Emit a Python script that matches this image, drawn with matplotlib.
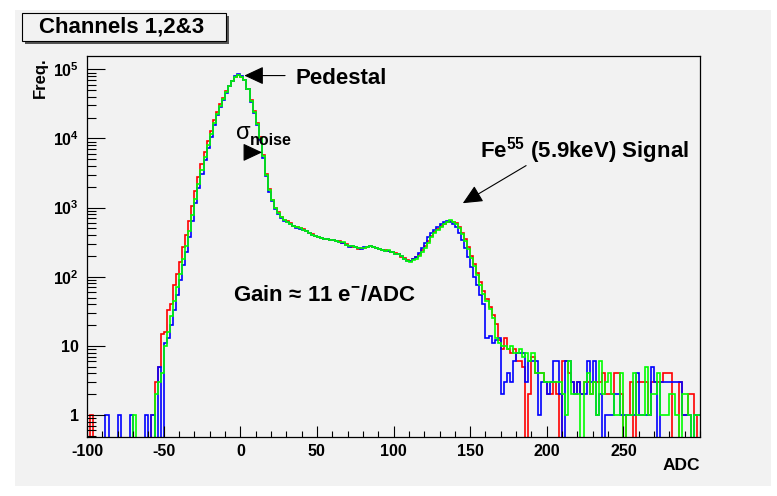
import numpy as np
import matplotlib
matplotlib.use("Agg")
import matplotlib.pyplot as plt
from matplotlib.ticker import FixedLocator, MultipleLocator, LogLocator, NullFormatter
from matplotlib.patches import Rectangle

plt.rcParams["font.family"] = ["Liberation Sans", "DejaVu Sans"]
plt.rcParams["font.weight"] = "bold"
plt.rcParams["axes.unicode_minus"] = False
plt.rcParams["mathtext.fontset"] = "custom"
plt.rcParams["mathtext.rm"] = "Liberation Sans:bold"
plt.rcParams["mathtext.bf"] = "Liberation Sans:bold"
plt.rcParams["mathtext.it"] = "Liberation Sans:bold:italic"

# histogram binning (ADC)
adc_min, adc_max, bin_width = -100, 300, 2

# counts per 2-ADC bin, 20 ADC per row
red = [
    0, 1, 0, 0, 0, 0, 0, 0, 0, 0,
    0, 0, 0, 0, 0, 0, 0, 0, 0, 0,
    0, 1, 3, 5, 15, 16, 33, 40, 75, 110,
    165, 270, 400, 650, 1050, 1750, 2800, 4300, 6400, 9200,
    13000, 18500, 24500, 31500, 39000, 48000, 58000, 68000, 78000, 82000,
    77000, 69000, 52000, 36000, 25000, 16500, 10500, 5800, 3100, 1850,
    1300, 1000, 850, 740, 670, 630, 590, 550, 520, 505,
    485, 455, 435, 410, 385, 370, 365, 352, 348, 340,
    345, 328, 325, 312, 295, 280, 272, 268, 255, 262,
    258, 268, 278, 270, 258, 255, 240, 242, 236, 230,
    220, 210, 195, 185, 175, 170, 180, 190, 205, 240,
    275, 330, 385, 440, 490, 535, 580, 620, 650, 625,
    590, 525, 430, 350, 270, 200, 155, 115, 85, 62,
    48, 36, 28, 21, 12, 9, 13, 9, 8, 9,
    6, 6, 5, 0, 2, 7, 4, 4, 4, 3,
    2, 2, 3, 2, 0, 6, 6, 4, 3, 2,
    3, 2, 3, 3, 2, 3, 3, 3, 4, 2,
    2, 2, 4, 4, 2, 0, 1, 3, 0, 3,
    3, 3, 3, 1, 3, 3, 3, 3, 4, 4,
    4, 0, 0, 3, 1, 1, 2, 2, 1, 0,
]

blue = [
    0, 0, 0, 0, 0, 0, 1, 0, 0, 0,
    1, 0, 0, 0, 1, 0, 0, 0, 0, 1,
    0, 1, 0, 5, 0, 11, 13, 20, 33, 55,
    90, 150, 230, 380, 650, 1150, 1900, 3100, 4900, 7300,
    10600, 15500, 21500, 28500, 36500, 46000, 57000, 68500, 79000, 84500,
    79000, 71000, 52000, 34000, 23000, 15500, 9600, 5200, 2850, 1700,
    1250, 960, 800, 710, 640, 610, 575, 540, 515, 495,
    470, 462, 428, 400, 392, 372, 360, 350, 346, 342,
    338, 332, 318, 310, 285, 272, 280, 265, 260, 255,
    265, 272, 280, 268, 260, 248, 246, 236, 238, 225,
    212, 212, 198, 178, 168, 168, 178, 195, 220, 262,
    310, 370, 430, 480, 530, 575, 615, 650, 620, 580,
    520, 430, 340, 260, 190, 140, 100, 75, 55, 40,
    13, 14, 11, 12, 13, 2, 3, 4, 3, 6,
    8, 8, 8, 3, 6, 6, 6, 1, 3, 3,
    2, 3, 6, 6, 2, 0, 6, 6, 3, 2,
    3, 2, 2, 6, 3, 6, 1, 2, 0, 1,
    1, 1, 2, 2, 1, 1, 1, 1, 1, 4,
    1, 1, 1, 1, 5, 3, 0, 3, 3, 3,
    3, 3, 3, 3, 1, 1, 1, 0, 1, 1,
]

green = [
    0, 0, 0, 0, 0, 0, 0, 0, 0, 0,
    0, 0, 0, 0, 0, 1, 0, 0, 0, 0,
    0, 0, 2, 3, 4, 10, 16, 27, 44, 70,
    110, 180, 280, 460, 780, 1350, 2200, 3500, 5400, 8000,
    11500, 16500, 22500, 29500, 37500, 46500, 57000, 68000, 78000, 83000,
    78000, 70000, 52000, 35000, 24000, 16000, 10000, 5500, 3000, 1800,
    1300, 990, 830, 730, 660, 620, 580, 545, 520, 500,
    480, 460, 430, 405, 390, 375, 362, 355, 350, 345,
    340, 330, 322, 318, 290, 275, 278, 270, 262, 258,
    262, 270, 282, 272, 262, 250, 244, 238, 240, 228,
    216, 215, 200, 182, 170, 165, 172, 182, 198, 228,
    262, 310, 370, 425, 480, 520, 570, 610, 660, 620,
    575, 510, 410, 330, 250, 185, 145, 105, 75, 57,
    44, 34, 25, 13, 11, 10, 10, 9, 10, 8,
    8, 9, 7, 8, 6, 8, 4, 4, 4, 3,
    3, 3, 3, 3, 3, 2, 1, 6, 2, 2,
    2, 0, 3, 4, 2, 3, 1, 6, 2, 3,
    4, 2, 1, 1, 4, 0, 1, 1, 4, 1,
    1, 1, 5, 1, 2, 2, 4, 1, 1, 1,
    2, 2, 1, 0, 2, 2, 1, 0, 1, 1,
]

channels = [("#ff0000", red), ("#0000ff", blue), ("#00ff00", green)]

x_ticks = [-100, -50, 0, 50, 100, 150, 200, 250]
y_ticks = [1, 10, 100, 1000, 10000, 100000]
y_tick_labels = ["1", "10", "$10^{2}$", "$10^{3}$", "$10^{4}$", "$10^{5}$"]

W, H = 777, 496
fig = plt.figure(figsize=(W / 100, H / 100), dpi=100, facecolor="white")


def px_box(x0, y0, x1, y1):
    # pixel box (top-left origin) -> figure fraction
    return (x0 / W, 1 - y1 / H), (x1 - x0) / W, (y1 - y0) / H


# grey pad behind everything
xy, w, h = px_box(15, 10, 771, 486)
fig.patches.append(Rectangle(xy, w, h, transform=fig.transFigure,
                             facecolor="#f2f2f2", edgecolor="none", zorder=-10))

ax = fig.add_axes([87.1 / W, 1 - 436.7 / H, 612.9 / W, 380.7 / H])
ax.set_facecolor("#f2f2f2")

edges = np.arange(adc_min, adc_max + bin_width, bin_width)
for col, counts in channels:
    vals = np.array(counts, dtype=float)
    vals = np.where(vals > 0, vals, 1e-2)  # empty bins drop to the frame
    ax.stairs(vals, edges, baseline=None, color=col, lw=1.2)

ax.set_yscale("log")
ax.set_xlim(adc_min, adc_max)
ax.set_ylim(0.485, 1.56e5)

ax.xaxis.set_major_locator(FixedLocator(x_ticks))
ax.xaxis.set_minor_locator(MultipleLocator(10))
ax.yaxis.set_major_locator(FixedLocator(y_ticks))
ax.set_yticklabels(y_tick_labels)
ax.yaxis.set_minor_locator(LogLocator(base=10, subs=np.arange(2, 10)))
ax.yaxis.set_minor_formatter(NullFormatter())

ax.tick_params(which="both", direction="in", top=False, right=False,
               width=0.8, labelsize=11.5)
ax.tick_params(axis="x", which="major", length=8, pad=5)
ax.tick_params(axis="x", which="minor", length=4)
ax.tick_params(axis="y", which="major", length=13, pad=6)
ax.tick_params(axis="y", which="minor", length=6.5)
for s in ax.spines.values():
    s.set_linewidth(0.9)

# axis titles (ROOT style)
fig.text(40 / W, 1 - 57 / H, "Freq.", rotation=90, ha="center", va="top", fontsize=12)
fig.text(700 / W, 1 - 466 / H, "ADC", ha="right", va="center", fontsize=12.5)

# title box with shadow
xy, w, h = px_box(25, 16, 229, 44)
fig.patches.append(Rectangle(xy, w, h, transform=fig.transFigure,
                             facecolor="#555555", edgecolor="none"))
xy, w, h = px_box(22, 13, 226, 41)
fig.patches.append(Rectangle(xy, w, h, transform=fig.transFigure,
                             facecolor="#f2f2f2", edgecolor="black", lw=0.8))
fig.text(122 / W, 1 - 27 / H, "Channels 1,2&3", ha="center", va="center", fontsize=16)

# annotations
head = "-|>,head_length=0.6,head_width=0.28"
ax.annotate("", xy=(2.6, 81300), xytext=(29.2, 81300),
            arrowprops=dict(arrowstyle=head, color="black", lw=0.8,
                            mutation_scale=20, shrinkA=0, shrinkB=0))
ax.text(35.7, 72800, "Pedestal", ha="left", va="center", fontsize=16)

ax.text(-3.0, 12050, "σ", ha="left", va="center", fontsize=17, fontweight="normal")
ax.text(6.2, 9400, "noise", ha="left", va="center", fontsize=11.5)
ax.annotate("", xy=(14.2, 6290), xytext=(4.4, 6290),
            arrowprops=dict(arrowstyle=head, color="black", lw=0.8,
                            mutation_scale=20, shrinkA=0, shrinkB=0))

ax.text(156.5, 6630, "Fe$^{55}$ (5.9keV) Signal", ha="left", va="center", fontsize=16)
ax.annotate("", xy=(145.2, 1158), xytext=(186.5, 4050),
            arrowprops=dict(arrowstyle=head, color="black", lw=0.8,
                            mutation_scale=20, shrinkA=0, shrinkB=0))

ax.text(-4.8, 52.7, "Gain ≈ 11 e$^{-}$/ADC", ha="left", va="center", fontsize=16)

fig.savefig("out.png", dpi=100, facecolor=fig.get_facecolor())
